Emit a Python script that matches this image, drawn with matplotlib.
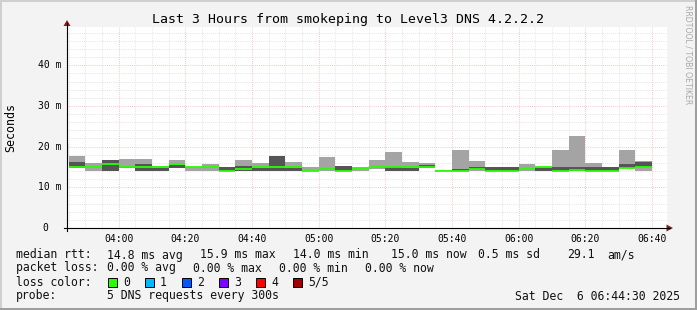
import matplotlib
matplotlib.use('Agg')
import matplotlib.pyplot as plt
import matplotlib.dates as mdates
from matplotlib.patches import Rectangle, Polygon
from matplotlib.lines import Line2D
from datetime import datetime, timedelta

# time frame of the graph (3 hours ending at the graph timestamp)
view_start = datetime(2025, 12, 6, 3, 44, 30)
view_end = datetime(2025, 12, 6, 6, 44, 30)
first_end = datetime(2025, 12, 6, 3, 50)
step_min = 5

# smoke / median values per 5 minute step, in ms
smoke_max = [17.8, 16.0, 16.7, 17.0, 17.0, 15.3, 16.7, 15.1, 15.8, 15.0,
             16.7, 16.0, 17.7, 16.2, 15.0, 17.5, 15.2, 15.0, 16.7, 18.7,
             16.2, 16.0, 14.2, 19.2, 16.5, 15.1, 15.1, 15.8, 15.0, 19.2,
             22.6, 16.0, 15.1, 19.2, 16.5]
smoke_min = [14.8, 14.1, 14.1, 14.7, 14.1, 14.1, 14.8, 14.1, 14.1, 14.0,
             14.1, 14.1, 14.1, 14.1, 14.0, 14.1, 14.0, 14.1, 14.6, 14.1,
             14.1, 14.8, 13.9, 14.0, 14.1, 14.0, 14.0, 14.1, 14.1, 14.0,
             14.0, 14.0, 14.0, 14.7, 14.1]
dark_hi = [16.1, 15.1, 16.7, 15.1, 15.8, 14.8, 15.4, 15.1, 15.1, 15.0,
           15.2, 14.8, 17.7, 14.8, 15.0, 14.5, 15.2, 14.5, 15.1, 14.9,
           14.8, 15.6, 14.0, 14.5, 15.0, 15.1, 15.1, 14.5, 14.8, 15.1,
           15.1, 15.1, 15.1, 15.8, 16.1]
dark_lo = [14.8, 15.1, 14.1, 14.7, 14.1, 14.1, 14.8, 15.1, 15.1, 14.0,
           14.1, 14.1, 14.1, 14.1, 15.0, 14.5, 14.0, 14.5, 15.1, 14.1,
           14.1, 14.8, 14.0, 14.0, 14.4, 14.0, 14.0, 14.5, 14.1, 14.0,
           14.0, 14.0, 14.0, 14.7, 15.1]
median = [15.1, 15.1, 15.7, 15.1, 15.1, 15.1, 15.7, 15.1, 15.1, 14.0,
          14.5, 14.9, 14.9, 14.9, 14.0, 14.5, 14.0, 14.5, 15.1, 15.1,
          14.9, 14.9, 14.0, 13.9, 14.4, 13.9, 13.9, 14.5, 15.0, 13.9,
          14.2, 13.9, 13.9, 14.7, 15.0]
spike = (16.0, 21.0)   # short gray stroke at the very left edge

y_ticks = [0, 10, 20, 30, 40]
y_labels = ['0  ', '10 m', '20 m', '30 m', '40 m']

legend_rows = [
    [(16, 'median rtt:'), (107, '14.8 ms avg'), (200, '15.9 ms max'), (293, '14.0 ms min'),
     (391, '15.0 ms now'), (478, '0.5 ms sd'), (567, '29.1'), (607, 'am/s')],
    [(16, 'packet loss:'), (107, '0.00 % avg'), (193, '0.00 % max'), (279, '0.00 % min'),
     (365, '0.00 % now')],
    [(16, 'loss color:')],
    [(16, 'probe:'), (107, '5 DNS requests every 300s')],
]
loss_labels = ['0', '1', '2', '3', '4', '5/5']
loss_colors = ['#26ff00', '#00b8ff', '#0059ff', '#7e00ff', '#ff0000', '#a10000']
loss_x = [108, 145, 182, 219, 256, 293]
stamp = 'Sat Dec  6 06:44:30 2025'

W, H = 697, 310
MONO = 'DejaVu Sans Mono'
fig = plt.figure(figsize=(W / 100, H / 100), dpi=100, facecolor='#f3f3f3')


def fx(x):
    return x / W


def fy(y):
    return 1 - y / H


L, R, T, B = 67, 667, 27, 228
ax = fig.add_axes([fx(L), fy(B), (R - L) / W, (B - T) / H])
ax.set_facecolor('white')
ax.set_xlim(view_start, view_end)
ax.set_ylim(0, 49.4)
for s in ax.spines.values():
    s.set_visible(False)

# grid, drawn as 1px on / 1px off dots
dots = (0, (1, 1.5))
t = datetime(2025, 12, 6, 3, 45)
while t < view_end:
    major = t.minute % 20 == 0
    ax.axvline(t, color='#f4b4b4' if major else '#dcdcdc', lw=0.6, ls=dots, zorder=1)
    t += timedelta(minutes=5)
for v in range(2, 50, 2):
    ax.axhline(v, color='#f4b4b4' if v % 10 == 0 else '#dcdcdc', lw=0.6, ls=dots, zorder=1)

# smoke and median
for i in range(len(median)):
    t1 = first_end + timedelta(minutes=step_min * i)
    t0 = max(t1 - timedelta(minutes=step_min), view_start)
    x0, x1 = mdates.date2num(t0), mdates.date2num(t1)
    ax.add_patch(Rectangle((x0, smoke_min[i]), x1 - x0, smoke_max[i] - smoke_min[i],
                           fc='#a4a4a4', ec='none', zorder=2))
    if dark_hi[i] > dark_lo[i]:
        ax.add_patch(Rectangle((x0, dark_lo[i]), x1 - x0, dark_hi[i] - dark_lo[i],
                               fc='#555555', ec='none', zorder=3))
    ax.plot([t0, t1], [median[i], median[i]], color=loss_colors[0], lw=1.3,
            solid_capstyle='butt', zorder=4)
ax.vlines(view_start + timedelta(seconds=8), spike[0], spike[1], color='#a4a4a4', lw=1.0, zorder=2)

# ticks
ax.xaxis.set_major_locator(mdates.MinuteLocator(byminute=[0, 20, 40]))
ax.xaxis.set_major_formatter(mdates.DateFormatter('%H:%M'))
ax.tick_params(axis='x', length=0, pad=4.5, labelsize=7)
for lab in ax.get_xticklabels():
    lab.set_fontfamily(MONO)
ax.set_yticks([])
for v, lab in zip(y_ticks, y_labels):
    ax.text(-0.01, v, lab, transform=ax.get_yaxis_transform(), ha='right', va='center',
            fontsize=7, family=MONO, color='black')

# axis lines with arrows
fig.add_artist(Line2D([fx(L), fx(L)], [fy(B + 3), fy(T - 4)], color='black', lw=0.8))
fig.add_artist(Line2D([fx(L - 3), fx(R + 3)], [fy(B), fy(B)], color='black', lw=0.8))
fig.add_artist(Polygon([(fx(L - 3.5), fy(T - 1)), (fx(L + 3.5), fy(T - 1)), (fx(L), fy(T - 7))],
                       closed=True, fc='#8b1a1a', ec='none'))
fig.add_artist(Polygon([(fx(R - 0.5), fy(B - 3.5)), (fx(R - 0.5), fy(B + 3.5)), (fx(R + 6), fy(B))],
                       closed=True, fc='#8b1a1a', ec='none'))

# texts
fig.text(fx(348), fy(19), 'Last 3 Hours from smokeping to Level3 DNS 4.2.2.2',
         ha='center', va='center', fontsize=9.5, family=MONO)
fig.text(fx(11), fy(127), 'Seconds', rotation=90, ha='center', va='center',
         fontsize=8.4, family=MONO)
fig.text(fx(688), fy(5), 'RRDTOOL / TOBI OETIKER', rotation=270, ha='center', va='top',
         fontsize=5.6, family='DejaVu Sans', color='#a8a8a8')

row_y = [255, 268, 282, 296]
for ry, row in zip(row_y, legend_rows):
    for x, s in row:
        fig.text(fx(x), fy(ry), s, ha='left', va='center', fontsize=8.3, family=MONO,
                 color='#111111')
for x, lab, c in zip(loss_x, loss_labels, loss_colors):
    fig.add_artist(Rectangle((fx(x), fy(287)), 9 / W, 9 / H, fc=c, ec='black', lw=0.7))
    fig.text(fx(x + 15), fy(282), lab, ha='left', va='center', fontsize=8.3, family=MONO,
             color='#111111')
fig.text(fx(680), fy(296), stamp, ha='right', va='center', fontsize=8.3, family=MONO,
         color='#111111')

# 3d frame around the image
fig.add_artist(Rectangle((0, fy(2)), 1, 2 / H, fc='#cfcfcf', ec='none'))
fig.add_artist(Rectangle((0, 0), 2 / W, 1, fc='#cfcfcf', ec='none'))
fig.add_artist(Rectangle((0, 0), 1, 2 / H, fc='#9e9e9e', ec='none'))
fig.add_artist(Rectangle((fx(W - 2), 0), 2 / W, 1, fc='#9e9e9e', ec='none'))

fig.savefig('out.png', dpi=100, facecolor=fig.get_facecolor())
